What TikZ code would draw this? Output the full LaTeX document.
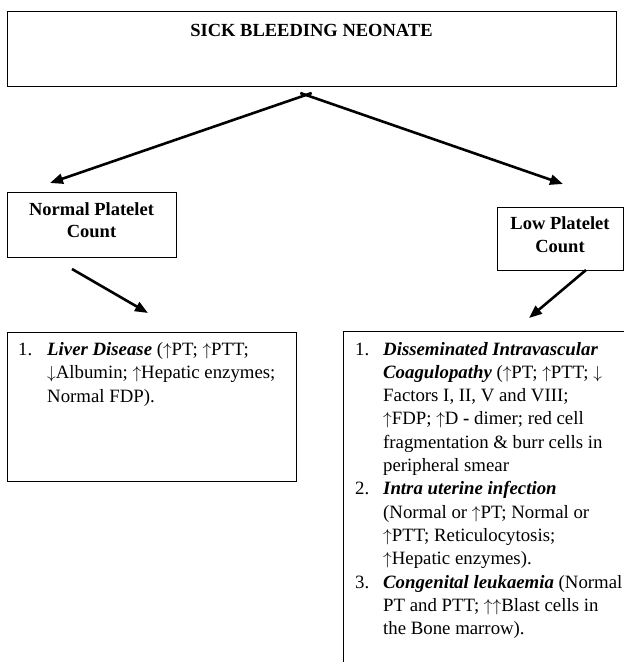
\documentclass[tikz,border=0pt]{standalone}
\usepackage{fontspec}
\setmainfont{Liberation Serif}
\usetikzlibrary{arrows.meta}
\tikzset{
  box/.style={draw=black, line width=1.2pt, inner sep=0pt},
  flow/.style={line width=2.6pt, -{Triangle[length=13pt,width=10pt]}},
  label text/.style={inner sep=0pt, font=\fontsize{18.5}{22.5}\selectfont\bfseries},
  body text/.style={inner sep=0pt, anchor=north west, font=\fontsize{18.8}{23.3}\selectfont}
}
\newcommand{\bi}[1]{\textbf{\textit{#1}}}
\newcommand{\upar}{\ensuremath{\uparrow}}
\newcommand{\dnar}{\ensuremath{\downarrow}}
\begin{document}
\begin{tikzpicture}[x=1pt,y=-1pt]
\useasboundingbox (0,0) rectangle (624,662);
\clip (0,0) rectangle (624,662);
% boxes
\node[box, anchor=north west, minimum width=609pt, minimum height=75pt] (top) at (7,11) {};
\node[label text, anchor=base] (title) at (311.5,36.5) {SICK BLEEDING NEONATE};
\node[box, anchor=north west, minimum width=169pt, minimum height=65pt] (normal) at (7,192) {};
\node[label text, anchor=base] (normalA) at (91.5,215) {Normal Platelet};
\node[label text, anchor=base] (normalB) at (91.5,237) {Count};
\node[box, anchor=north west, minimum width=126pt, minimum height=63pt] (low) at (497,207) {};
\node[label text, anchor=base] (lowA) at (560,229) {Low Platelet};
\node[label text, anchor=base] (lowB) at (560,252) {Count};
\node[box, anchor=north west, minimum width=289pt, minimum height=149pt] (liver) at (7,332) {};
\node[box, anchor=north west, minimum width=300pt, minimum height=350pt] (dic) at (343,331) {};
% texts
\node[body text] (livertext) at (18,339) {\begin{tabular}{@{}p{29pt}@{}l@{}}
1. & \bi{Liver Disease} (\upar PT; \upar PTT;\\
 & \dnar Albumin; \upar Hepatic enzymes;\\
 & Normal FDP).
\end{tabular}};
\node[body text] (dictext) at (355,338.5) {\begin{tabular}{@{}p{28pt}@{}l@{}}
1. & \bi{Disseminated Intravascular}\\
 & \bi{Coagulopathy} (\upar PT; \upar PTT; \dnar\\
 & Factors I, II, V and VIII;\\
 & \upar FDP; \upar D \textbf{-} dimer; red cell\\
 & fragmentation \& burr cells in\\
 & peripheral smear\\
2. & \bi{Intra uterine infection}\\
 & (Normal or \upar PT; Normal or\\
 & \upar PTT; Reticulocytosis;\\
 & \upar Hepatic enzymes).\\
3. & \bi{Congenital leukaemia} (Normal\\
 & PT and PTT; \upar\upar Blast cells in\\
 & the Bone marrow).
\end{tabular}};
% connectors
\coordinate (apex) at (306,95);
\coordinate (tipN) at (50,183);
\coordinate (tipL) at (563,184);
\coordinate (startNL) at (72,269);
\coordinate (tipNL) at (148,313);
\coordinate (startLD) at (586,270);
\coordinate (tipLD) at (529,318);
\draw[flow] ([shift={(5.7,-2)}]apex) -- (tipN);
\draw[flow] ([shift={(-5.7,-2)}]apex) -- (tipL);
\draw[flow] (startNL) -- (tipNL);
\draw[flow] (startLD) -- (tipLD);
\end{tikzpicture}
\end{document}
